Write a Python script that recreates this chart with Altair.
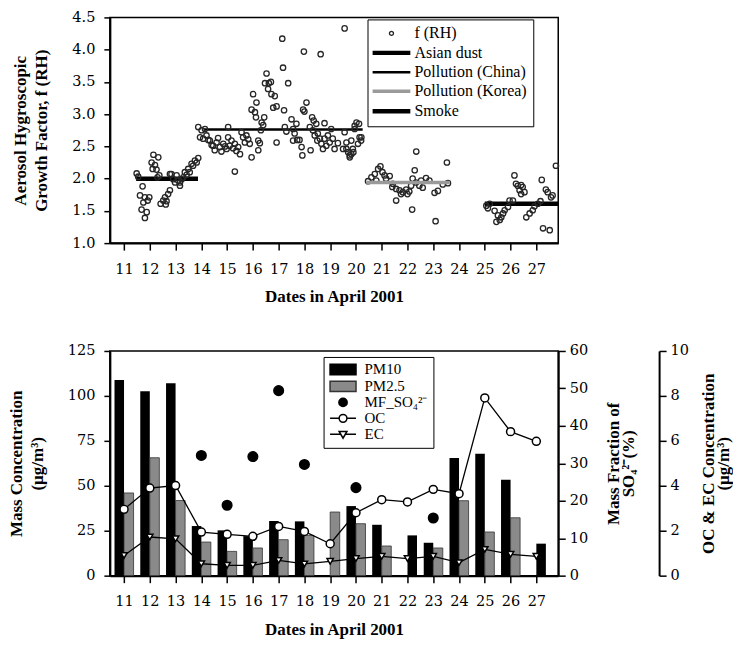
import altair as alt
import pandas as pd

FONT = "Liberation Serif"
TICKFONT = "DejaVu Serif"

# ---------------- top panel data: f(RH) scatter ----------------
rh_day = [11.49, 11.55, 11.62, 11.68, 11.72, 11.75, 11.81, 11.81, 11.88, 11.98, 11.92,
          12.07, 12.11, 12.14, 12.2, 12.26, 12.33, 12.37, 12.3,
          12.42, 12.52, 12.59, 12.65, 12.71, 12.78, 12.62,
          12.78, 12.84, 12.91, 12.98, 13.04, 13.1, 13.17, 13.17, 13.24, 13.3, 13.36, 13.43,
          13.49, 13.55, 13.62, 13.68, 13.75, 13.82, 13.88,
          13.88, 13.95, 14.01, 14.07, 14.14, 14.2, 14.27, 14.33, 14.4, 14.46, 14.52, 14.59,
          14.65, 14.72, 14.78, 14.85, 14.92, 14.98, 15.04, 15.04,
          15.1, 15.17, 15.23, 15.3, 15.3, 15.36, 15.43, 15.5, 15.56, 15.62, 15.69, 15.75,
          15.82, 15.88, 15.95, 15.95,
          16.01, 16.08, 16.12, 16.14, 16.21, 16.21, 16.27, 16.31, 16.34, 16.4, 16.44, 16.47,
          16.53, 16.59, 16.62, 16.7, 16.72, 16.79, 16.85, 16.92, 16.92,
          17.14, 17.17, 17.21, 17.24, 17.3, 17.37, 17.5, 17.56, 17.56, 17.62, 17.69, 17.72,
          17.81, 17.89, 17.92, 17.95, 17.98,
          18.0, 18.08, 18.21, 18.24, 18.3, 18.33, 18.36, 18.4, 18.46, 18.5, 18.52, 18.6,
          18.63, 18.66, 18.72, 18.78, 18.78, 18.85, 18.91, 18.98,
          19.04, 19.1, 19.17, 19.3, 19.5, 19.56, 19.56, 19.63, 19.63, 19.7, 19.76, 19.76,
          19.82, 19.82, 19.88, 19.9, 19.95, 19.95, 20.02, 20.08, 20.12, 20.14, 20.2, 20.21,
          20.47, 20.6, 20.73, 20.79, 20.86, 20.95, 21.03, 21.11, 21.17, 21.31, 21.41, 21.43,
          21.56, 21.56, 21.69, 21.75, 21.82, 21.95, 22.0, 22.07, 22.14, 22.18, 22.2, 22.28,
          22.33, 22.34, 22.46, 22.53, 22.59, 22.72, 22.85, 23.05, 23.09, 23.18, 23.37, 23.53,
          23.57,
          25.06, 25.12, 25.19, 25.38, 25.45, 25.51, 25.58, 25.64, 25.71, 25.77, 25.9, 25.96,
          26.09, 26.15, 26.21, 26.28, 26.35, 26.41, 26.41, 26.47, 26.54, 26.61, 26.74, 26.86,
          26.93, 27.06, 27.16, 27.21, 27.26, 27.37, 27.44, 27.52, 27.57, 27.63, 27.76]
rh_val = [2.08, 2.03, 1.74, 1.52, 1.88, 1.63, 1.71, 1.39, 1.48, 1.71, 1.66,
          2.25, 2.15, 2.37, 2.21, 2.14, 2.33, 2.05, 2.02,
          1.61, 1.66, 1.71, 1.65, 1.76, 1.82, 1.60,
          2.07, 2.07, 1.99, 1.94, 2.05, 1.97, 1.89, 1.94, 1.99, 2.02, 2.10, 2.06,
          2.15, 2.10, 2.23, 2.20, 2.28, 2.25, 2.32,
          2.80, 2.64, 2.75, 2.62, 2.77, 2.67, 2.60, 2.59, 2.52, 2.51, 2.44, 2.56,
          2.63, 2.49, 2.42, 2.54, 2.50, 2.46, 2.80, 2.64,
          2.51, 2.59, 2.47, 2.54, 2.11, 2.43, 2.49, 2.38, 2.72, 2.64, 2.56, 2.67,
          2.61, 2.54, 2.33, 3.07,
          3.31, 3.03, 2.95, 3.18, 2.59, 2.44, 2.55, 2.75, 2.87, 2.83, 2.95, 3.48,
          3.63, 3.39, 3.48, 3.50, 3.31, 3.10, 3.28, 3.12, 2.56,
          4.17, 3.72, 3.06, 2.80, 2.73, 3.48, 2.92, 2.77, 2.59, 2.70, 2.85, 2.60,
          2.60, 2.49, 2.36, 3.07, 3.97,
          3.04, 3.18, 2.80, 2.44, 2.95, 2.75, 2.90, 2.67, 2.85, 2.59, 2.70, 2.62,
          3.93, 2.54, 2.46, 2.86, 2.62, 2.51, 2.67, 2.56,
          2.77, 2.62, 2.46, 2.55, 2.46, 4.33, 2.72, 2.56, 2.46, 2.41, 2.33, 2.36,
          2.38, 2.59, 2.46, 2.41, 2.82, 2.77, 2.87, 2.54, 2.85, 2.64, 2.59, 2.64,
          1.96, 2.02, 2.07, 1.97, 2.15, 2.19, 2.10, 2.05, 2.00, 2.04, 1.87, 1.92,
          1.84, 1.66, 1.82, 1.76, 1.79, 1.83, 1.76, 1.80, 1.89, 1.52, 2.00, 2.13,
          1.94, 2.42, 1.89, 1.97, 1.86, 2.01, 1.97, 1.78, 1.34, 1.81, 1.91, 2.25,
          1.93,
          1.58, 1.54, 1.61, 1.50, 1.33, 1.43, 1.36, 1.40, 1.46, 1.51, 1.56, 1.66,
          1.66, 2.05, 1.92, 1.89, 1.82, 1.76, 1.90, 1.87, 1.79, 1.40, 1.46, 1.51,
          1.57, 1.61, 1.65, 1.98, 1.23, 1.83, 1.79, 1.20, 1.71, 1.74, 2.20]

# air-mass period averages
seg_names = ["Asian dust", "Pollution (China)", "Pollution (Korea)", "Smoke"]
seg_start = [11.47, 14.1, 20.4, 25.0]
seg_end = [13.87, 20.26, 23.64, 27.85]
seg_level = [2.0, 2.76, 1.94, 1.61]

top_series = ["f (RH)"] + seg_names

# ---------------- bottom panel data ----------------
days = list(range(11, 28))
pm10 = [108.9, 102.6, 107.0, 27.6, 25.2, 22.0, 30.4, 30.2, None, 38.7, 28.3, None,
        18.3, 65.5, 67.8, 53.3, None]
pm25 = [46.0, 65.6, 41.8, 18.7, 13.5, 15.4, 20.0, 22.4, 35.4, 28.9, 16.5, 22.4,
        15.4, 41.7, 24.3, 32.2, 17.8]
pm25_dark_days = [22, 27]
mf_days = [14, 15, 16, 17, 18, 20, 23]
mf_so4 = [32.1, 18.8, 31.8, 49.4, 29.7, 23.5, 15.4]
oc = [2.95, 3.90, 4.01, 1.94, 1.84, 1.75, 2.19, 1.97, 1.42, 2.80, 3.38, 3.28,
      3.84, 3.65, 7.91, 6.41, 5.98]
ec = [0.90, 1.72, 1.64, 0.53, 0.46, 0.46, 0.68, 0.52, 0.64, 0.76, 0.86, 0.76,
      0.86, 0.58, 1.17, 0.95, 0.86]

bottom_series = ["PM10", "PM2.5", "MF_SO\u2084\u00b2\u207b", "OC", "EC"]

# ---------------- tables ----------------
rh_df = pd.DataFrame({"day": rh_day, "value": rh_val, "series": "f (RH)"})
seg_df = pd.DataFrame({"series": seg_names, "start": seg_start, "end": seg_end,
                       "level": seg_level})

bar_rows = []
for d, a, b in zip(days, pm10, pm25):
    if a is not None:
        bar_rows.append({"day": d, "series": "PM10", "value": a, "slot": 0, "dark": True})
    if b is not None:
        bar_rows.append({"day": d, "series": "PM2.5", "value": b, "slot": 1,
                         "dark": d in pm25_dark_days})
bar_df = pd.DataFrame(bar_rows)
mf_df = pd.DataFrame({"day": mf_days, "mf": mf_so4, "series": bottom_series[2]})
carb_df = pd.DataFrame({"day": days * 2, "conc": oc + ec,
                        "kind": ["OC"] * len(days) + ["EC"] * len(days)})

# ---------------- shared styling ----------------
XDOM = [10.45, 27.85]


def xs():
    return alt.Scale(domain=XDOM, nice=False, zero=False)


def xaxis():
    return alt.Axis(values=days, format="d", title="Dates in April 2001",
                    tickSize=7, labelPadding=12, titlePadding=13, labelFlush=False,
                    labelOverlap=False)


def top_yaxis():
    return alt.Axis(values=[1.0, 1.5, 2.0, 2.5, 3.0, 3.5, 4.0, 4.5], format=".1f",
                    title=["Aerosol Hygroscopic", "Growth Factor, f (RH)"],
                    tickSize=6, labelPadding=9, titlePadding=21, labelOverlap=False)


def top_yscale():
    return alt.Scale(domain=[1.0, 4.5], nice=False, zero=False)


# ================= TOP PANEL =================
dot_path = "M0.3,0A0.3,0.3 0 1,1 -0.3,0A0.3,0.3 0 1,1 0.3,0Z"
line_path = "M-2.8,0H2.8"
top_legend = alt.Legend(title=None, orient="none", legendX=258, legendY=2,
                        strokeColor="black", fillColor="white", padding=6,
                        symbolSize=182, symbolOffset=9, labelOffset=14,
                        labelFont=FONT, labelFontSize=16, labelColor="black",
                        rowPadding=2.5, symbolOpacity=1)

pts = alt.Chart(rh_df).mark_point(size=324, opacity=1, filled=False).encode(
    x=alt.X("day:Q", scale=xs(), axis=xaxis()),
    y=alt.Y("value:Q", scale=top_yscale(), axis=top_yaxis()),
    shape=alt.Shape("series:N", title=None, legend=top_legend,
                    scale=alt.Scale(domain=top_series,
                                    range=[dot_path, line_path, line_path, line_path,
                                           line_path])),
    color=alt.Color("series:N", title=None, legend=top_legend,
                    scale=alt.Scale(domain=top_series,
                                    range=["#262626", "black", "black", "#9a9a9a", "black"])),
    strokeWidth=alt.StrokeWidth("series:N", title=None, legend=top_legend,
                                scale=alt.Scale(type="ordinal", domain=top_series,
                                                range=[1.3, 4.5, 2.5, 3.5, 4.5])),
)

seg_style = {"Asian dust": ("black", 4.5), "Pollution (China)": ("black", 2.5),
             "Pollution (Korea)": ("#9a9a9a", 3.5), "Smoke": ("black", 4.5)}
seg_layers = []
for name in seg_names:
    col, w = seg_style[name]
    seg_layers.append(
        alt.Chart(seg_df).transform_filter(alt.datum.series == name)
        .mark_rule(color=col, strokeWidth=w)
        .encode(x=alt.X("start:Q", scale=xs(), axis=xaxis()), x2="end:Q",
                y=alt.Y("level:Q", scale=top_yscale(), axis=top_yaxis()))
    )

top = alt.layer(seg_layers[0], seg_layers[1], seg_layers[3], pts, seg_layers[2]).properties(
    width=449, height=226)

# ================= BOTTOM PANEL =================
rect_path = "M-2,-0.8H2V0.8H-2Z"
circ_path = "M0.64,0A0.64,0.64 0 1,1 -0.64,0A0.64,0.64 0 1,1 0.64,0Z"
oc_path = "M-2,0H-0.6M0.6,0H2M0.6,0A0.6,0.6 0 1,1 -0.6,0A0.6,0.6 0 1,1 0.6,0Z"
ec_path = "M-2,0H-0.34M0.34,0H2M-0.6,-0.44L0.6,-0.44L0,0.6Z"

bot_legend = alt.Legend(title=None, orient="none", legendX=214, legendY=6,
                        strokeColor="black", fillColor="white", padding=5,
                        symbolSize=169, symbolOffset=7, labelOffset=14,
                        labelFont=FONT, labelFontSize=15, labelColor="black",
                        rowPadding=0, symbolOpacity=1, symbolStrokeWidth=1.5)

left_y = alt.Y("value:Q", scale=alt.Scale(domain=[0, 125], nice=False),
               axis=alt.Axis(orient="left", values=[0, 25, 50, 75, 100, 125],
                             title=["Mass Concentration", "(\u00b5g/m\u00b3)"],
                             tickSize=6, labelPadding=9, titlePadding=21,
                             labelOverlap=False))

bar_x0 = "datum.slot == 0 ? datum.day - 0.37 : datum.day"
bar_x1 = "datum.slot == 0 ? datum.day : datum.day + 0.37"

black_bars = alt.Chart(bar_df).transform_filter("datum.dark").transform_calculate(
    x0=bar_x0, x1=bar_x1, base="0").mark_bar(color="black").encode(
    x=alt.X("x0:Q", scale=xs(), axis=xaxis()), x2="x1:Q", y=left_y, y2="base:Q")
gray_bars = alt.Chart(bar_df).transform_filter("!datum.dark").transform_calculate(
    x0=bar_x0, x1=bar_x1, base="0").mark_bar(fill="#8a8a8a", stroke="#333333",
                                             strokeWidth=0.8).encode(
    x=alt.X("x0:Q", scale=xs(), axis=xaxis()), x2="x1:Q", y=left_y, y2="base:Q")
bars = alt.layer(black_bars, gray_bars)

mf_layer = alt.Chart(mf_df).mark_point(size=225, opacity=1, filled=True,
                                       strokeWidth=1.5).encode(
    x=alt.X("day:Q", scale=xs(), axis=xaxis()),
    y=alt.Y("mf:Q", scale=alt.Scale(domain=[0, 60], nice=False),
            axis=alt.Axis(orient="right", values=[0, 10, 20, 30, 40, 50, 60],
                          title=["Mass Fraction of", "SO\u2084\u00b2\u207b(%)"],
                          titleAngle=270, titleLineHeight=15, tickSize=7,
                          labelPadding=4, titlePadding=20, labelOverlap=False)),
    shape=alt.Shape("series:N", title=None, legend=bot_legend,
                    scale=alt.Scale(domain=bottom_series,
                                    range=[rect_path, rect_path, circ_path, oc_path, ec_path])),
    fill=alt.Fill("series:N", title=None, legend=bot_legend,
                  scale=alt.Scale(domain=bottom_series,
                                  range=["black", "#8a8a8a", "black", "white", "white"])),
    stroke=alt.Stroke("series:N", title=None, legend=bot_legend,
                      scale=alt.Scale(domain=bottom_series,
                                      range=["black", "#333333", "black", "black", "black"])),
)

carb_y = alt.Y("conc:Q", scale=alt.Scale(domain=[0, 10], nice=False),
               axis=alt.Axis(orient="right", offset=101, values=[0, 2, 4, 6, 8, 10],
                             title=["OC & EC Concentration", "(\u00b5g/m\u00b3)"],
                             titleAngle=270, titleLineHeight=15, tickSize=7,
                             labelPadding=4, titlePadding=14, labelOverlap=False))
carb_layers = []
for kind, shp, sz in [("OC", "circle", 64), ("EC", "triangle-down", 40)]:
    base = alt.Chart(carb_df).transform_filter(alt.datum.kind == kind)
    carb_layers.append(base.mark_line(color="black", strokeWidth=1.3).encode(
        x=alt.X("day:Q", scale=xs(), axis=xaxis()), y=carb_y))
    carb_layers.append(base.mark_point(shape=shp, size=sz, filled=True, fill="white",
                                       stroke="black", strokeWidth=1.5, opacity=1).encode(
        x=alt.X("day:Q", scale=xs(), axis=xaxis()), y=carb_y))
carb = alt.layer(*carb_layers)

bottom = alt.layer(bars, carb, mf_layer).resolve_scale(y="independent").properties(
    width=449, height=225)

chart = alt.vconcat(top, bottom, spacing=36).resolve_scale(
    x="independent", color="independent", shape="independent", fill="independent",
    stroke="independent", strokeWidth="independent").properties(
    padding={"left": -2, "top": 0, "right": 0, "bottom": 0}
).configure(font=FONT).configure_view(stroke="black", strokeWidth=1.5).configure_axis(
    grid=False, domainColor="black", domainWidth=2, tickColor="black", tickWidth=1.5,
    labelFont=TICKFONT, labelFontSize=14.5, labelColor="black", titleFont=FONT,
    titleFontSize=17, titleFontWeight="bold", titleColor="black", titleLineHeight=21,
).configure_legend(labelFont=FONT)

chart.save("out.html", embed_options={"renderer": "svg", "actions": False})
